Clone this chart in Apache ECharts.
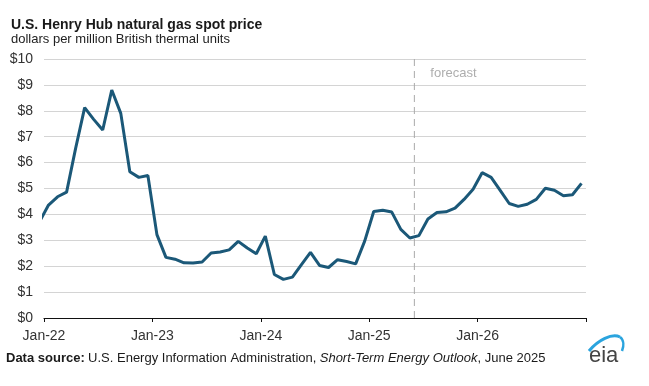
<!DOCTYPE html>
<html>
<head>
<meta charset="utf-8">
<script src="https://cdn.jsdelivr.net/npm/echarts@6/dist/echarts.min.js"></script>
<style>
html,body{margin:0;padding:0;background:#fff;}
#chart{width:649px;height:386px;}
</style>
</head>
<body>
<div id="chart"></div>
<script>
// Monthly Henry Hub spot price (dollars per MMBtu), points plotted mid-month
const months = [
  'Dec-21',
  'Jan-22','Feb-22','Mar-22','Apr-22','May-22','Jun-22','Jul-22','Aug-22','Sep-22','Oct-22','Nov-22','Dec-22',
  'Jan-23','Feb-23','Mar-23','Apr-23','May-23','Jun-23','Jul-23','Aug-23','Sep-23','Oct-23','Nov-23','Dec-23',
  'Jan-24','Feb-24','Mar-24','Apr-24','May-24','Jun-24','Jul-24','Aug-24','Sep-24','Oct-24','Nov-24','Dec-24',
  'Jan-25','Feb-25','Mar-25','Apr-25','May-25','Jun-25','Jul-25','Aug-25','Sep-25','Oct-25','Nov-25','Dec-25',
  'Jan-26','Feb-26','Mar-26','Apr-26','May-26','Jun-26','Jul-26','Aug-26','Sep-26','Oct-26','Nov-26','Dec-26'
];
const prices = [
  3.72,
  4.36, 4.68, 4.86, 6.55, 8.12, 7.67, 7.26, 8.80, 7.90, 5.65, 5.43, 5.50,
  3.22, 2.34, 2.27, 2.13, 2.12, 2.16, 2.51, 2.55, 2.63, 2.96, 2.70, 2.48,
  3.16, 1.68, 1.49, 1.58, 2.06, 2.53, 2.03, 1.95, 2.25, 2.18, 2.09, 2.97,
  4.11, 4.16, 4.09, 3.42, 3.09, 3.18, 3.82, 4.07, 4.10, 4.24, 4.58, 4.97,
  5.61, 5.43, 4.93, 4.42, 4.31, 4.39, 4.58, 5.01, 4.93, 4.72, 4.76, 5.20
];
const tickLabels = ['Jan-22','Jan-23','Jan-24','Jan-25','Jan-26',''];
const yTicks = ['$0','$1','$2','$3','$4','$5','$6','$7','$8','$9','$10'];
const forecastStart = 'Jun-25';
const forecastLabel = 'forecast';

// x position in months since Jan-22 (mid-month points)
const firstMonthOffset = -1; // 'Dec-21' is one month before Jan-22
const seriesData = months.map((m, i) => [i + firstMonthOffset + 0.5, prices[i]]);
const forecastX = months.indexOf(forecastStart) + firstMonthOffset;

const chart = echarts.init(document.getElementById('chart'), null, {renderer: 'canvas'});
const font = '"Liberation Sans", Arial, sans-serif';

chart.setOption({
  animation: false,
  backgroundColor: '#ffffff',
  textStyle: {fontFamily: font},
  title: [
    {text: 'U.S. Henry Hub natural gas spot price', left: 6, top: 13,
     textStyle: {fontFamily: font, fontSize: 14, fontWeight: 'bold', color: '#1a1a1a'}},
    {text: 'dollars per million British thermal units', left: 6, top: 28,
     textStyle: {fontFamily: font, fontSize: 13, fontWeight: 'normal', color: '#222'}}
  ],
  grid: {left: 44, right: 63, top: 59, bottom: 68, containLabel: false},
  xAxis: {
    type: 'value', min: 0, max: 60, interval: 12,
    axisLine: {show: true, lineStyle: {color: '#111', width: 1.2}},
    axisTick: {show: true, inside: false, length: 4, lineStyle: {color: '#111'}},
    axisLabel: {
      margin: 11, fontSize: 14, color: '#333', fontFamily: font,
      formatter: v => tickLabels[Math.round(v / 12)] || ''
    },
    splitLine: {show: false}
  },
  yAxis: {
    type: 'value', min: 0, max: 10, interval: 1,
    axisLine: {show: false}, axisTick: {show: false},
    axisLabel: {margin: 11, fontSize: 14, color: '#333', fontFamily: font,
      formatter: v => yTicks[Math.round(v)]},
    splitLine: {show: true, lineStyle: {color: '#d4d4d4', width: 1}}
  },
  series: [
    {
      type: 'line', silent: true,
      data: [[forecastX, 0], [forecastX, 10]],
      symbol: 'none',
      lineStyle: {color: '#aaaaaa', type: [7, 5], width: 1}
    },
    {
      type: 'scatter', silent: true,
      data: [[forecastX, 9.45]],
      symbolSize: 0,
      label: {show: true, formatter: forecastLabel, position: 'right', distance: 16,
        color: '#999', fontSize: 13, fontFamily: font}
    },
    {
      type: 'line',
      data: seriesData,
      clip: true,
      symbol: 'none',
      lineStyle: {color: '#1b5878', width: 3}
    }
  ],
  graphic: [
    {type: 'text', left: 6, top: 352,
     style: {rich: {
       b: {fontWeight: 'bold', fontSize: 13, fill: '#1a1a1a', fontFamily: font},
       n: {fontSize: 13, fill: '#1a1a1a', fontFamily: font},
       i: {fontStyle: 'italic', fontSize: 13, fill: '#1a1a1a', fontFamily: font}
     }, text: '{b|Data source:} {n|U.S. Energy Information Administration,} {i|Short-Term Energy Outlook}{n|, June 2025}'}},
    {type: 'text', left: 589, top: 345,
     style: {text: 'eia', fontSize: 22, fill: '#444', fontFamily: font}},
    {type: 'bezierCurve',
     shape: {x1: 589, y1: 351, cpx1: 598, cpy1: 340, cpx2: 612, cpy2: 333, x2: 620, y2: 337},
     style: {stroke: '#2aa4de', lineWidth: 3, fill: null}},
    {type: 'bezierCurve',
     shape: {x1: 620, y1: 337, cpx1: 624, cpy1: 340, cpx2: 624, cpy2: 346, x2: 622, y2: 351},
     style: {stroke: '#2aa4de', lineWidth: 2.5, fill: null}}
  ]
});
</script>
</body>
</html>
